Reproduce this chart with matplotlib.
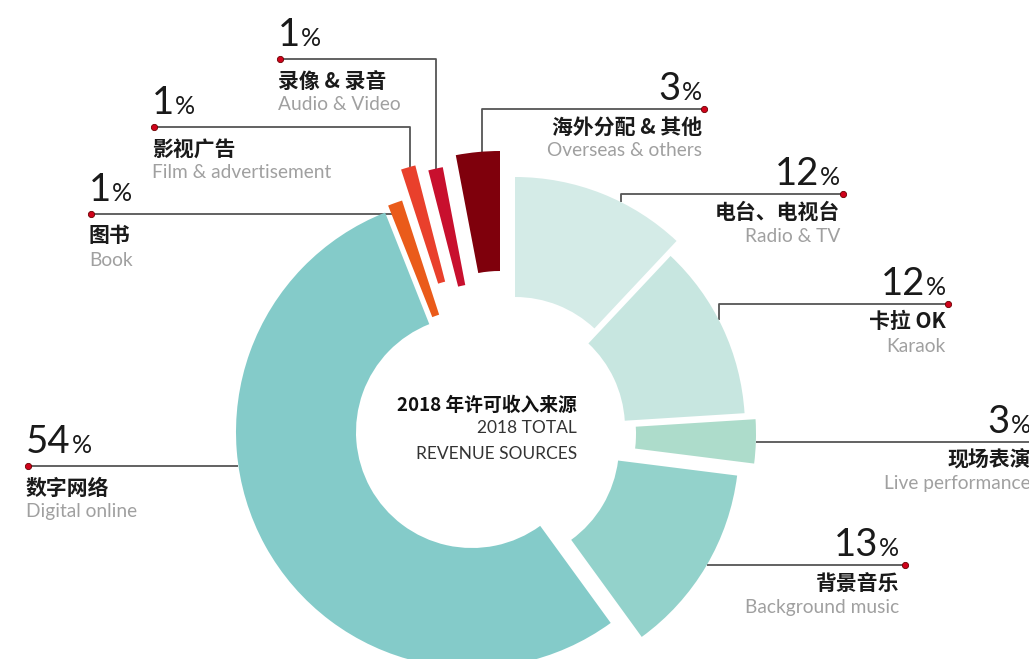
import matplotlib.pyplot as plt
import numpy as np

plt.rcParams['font.family'] = ['Lato', 'Noto Sans CJK SC', 'DejaVu Sans']

W, H = 1029, 659

# slices, clockwise from 12 o'clock
names_cn = ['电台、电视台', '卡拉 OK', '现场表演', '背景音乐', '数字网络',
            '图书', '影视广告', '录像 & 录音', '海外分配 & 其他']
names_en = ['Radio & TV', 'Karaok', 'Live performance', 'Background music',
            'Digital online', 'Book', 'Film & advertisement', 'Audio & Video',
            'Overseas & others']
shares = [12, 12, 3, 13, 54, 1, 1, 1, 3]

colors = ['#d4ebe7', '#c7e6e0', '#addccb', '#93d2cb', '#84cbc9',
          '#ea5b1a', '#e9402c', '#c8102e', '#7f000c']

# pie centre (image px) and the hand-pulled offset of every slice (px, y down)
CENTER = (495, 430)
NUDGE = [(20, -17), (14, -2), (25, 4), (8, 16), (-23, 2),
         (-20, -5), (-21, -36), (-8, -31), (5, -43)]
R, RING = 236, 120

# label layout: dot x, dot y, text edge x, side, leader type
LAYOUT = [
    (843, 194, 840, 'r', ('v', 621)),
    (948, 304, 946, 'r', ('v', 719)),
    (1045, 442, 1031, 'r', ('h',)),
    (905, 565, 899, 'r', ('h',)),
    (28, 466, 26, 'l', ('h',)),
    (91, 214, 89, 'l', ('edge',)),
    (154, 127, 152, 'l', ('v', 410)),
    (280, 59, 278, 'l', ('v', 436)),
    (704, 109, 702, 'r', ('v', 482)),
]

LINE = '#555555'
CJK = ['Noto Sans CJK SC', 'DejaVu Sans']
INK = '#1a1a1a'

fig = plt.figure(figsize=(W / 100, H / 100), dpi=100)
ax = fig.add_axes([0, 0, 1, 1])
cx, cy = CENTER[0], H - CENTER[1]
wedges, _ = ax.pie(shares, colors=colors, startangle=90, counterclock=False,
                   radius=R, center=(cx, cy),
                   wedgeprops=dict(width=RING, linewidth=0))
for w, (dx, dy) in zip(wedges, NUDGE):
    w.set_center((cx + dx, cy - dy))
ax.set_xlim(0, W)
ax.set_ylim(0, H)
ax.set_aspect('equal')
ax.axis('off')

renderer = fig.canvas.get_renderer()

for i, (px, py, tx, side, lead) in enumerate(LAYOUT):
    w = wedges[i]
    wx, wy = w.center
    r = w.r
    dy_ = H - py
    if lead[0] == 'v':
        x0 = lead[1]
        y_arc = wy + np.sqrt(r ** 2 - (x0 - wx) ** 2)
        xs, ys = [x0, x0, px], [y_arc, dy_, dy_]
    elif lead[0] == 'h':
        dx_ = np.sqrt(r ** 2 - (dy_ - wy) ** 2)
        x0 = wx + dx_ if side == 'r' else wx - dx_
        xs, ys = [x0, px], [dy_, dy_]
    else:
        t = np.radians(w.theta2)
        s = (dy_ - wy) / np.sin(t)
        xs, ys = [wx + s * np.cos(t) + 2, px], [dy_, dy_]
    ax.plot(xs, ys, color=LINE, lw=1.3, zorder=0.5, solid_capstyle='butt')
    ax.plot(px, dy_, 'o', ms=4.5, mfc='#d0021b', mec='#6b0000', mew=0.6, zorder=3)

    up, cn_dy, en_dy = (13, 22, 46) if side == 'l' else (9, 18, 42)
    num = str(shares[i])
    if side == 'l':
        t1 = ax.text(tx, H - py + up, num, ha='left', va='baseline',
                     fontsize=27.5, color=INK)
        bb = t1.get_window_extent(renderer)
        ax.text(bb.x1 + 1, H - py + up, '%', ha='left', va='baseline',
                fontsize=18, color=INK)
    else:
        t1 = ax.text(tx, H - py + up, '%', ha='right', va='baseline',
                     fontsize=18, color=INK)
        bb = t1.get_window_extent(renderer)
        ax.text(bb.x0 - 1, H - py + up, num, ha='right', va='baseline',
                fontsize=27.5, color=INK)
    ha = 'left' if side == 'l' else 'right'
    ax.text(tx, H - py - cn_dy, names_cn[i], ha=ha, va='center',
            fontsize=15, fontweight='bold', family=CJK, color=INK)
    ax.text(tx, H - py - en_dy, names_en[i], ha=ha, va='center',
            fontsize=13.8, color='#a0a0a0')

# centre caption
ax.text(577, H - 405, '2018 年许可收入来源', ha='right', va='center',
        fontsize=13.5, fontweight='black', family=CJK, color='#111111')
ax.text(577, H - 428, '2018 TOTAL', ha='right', va='center',
        fontsize=12.5, color='#333333')
ax.text(577, H - 454, 'REVENUE SOURCES', ha='right', va='center',
        fontsize=12.5, color='#333333')

fig.savefig('out.png', dpi=100)
